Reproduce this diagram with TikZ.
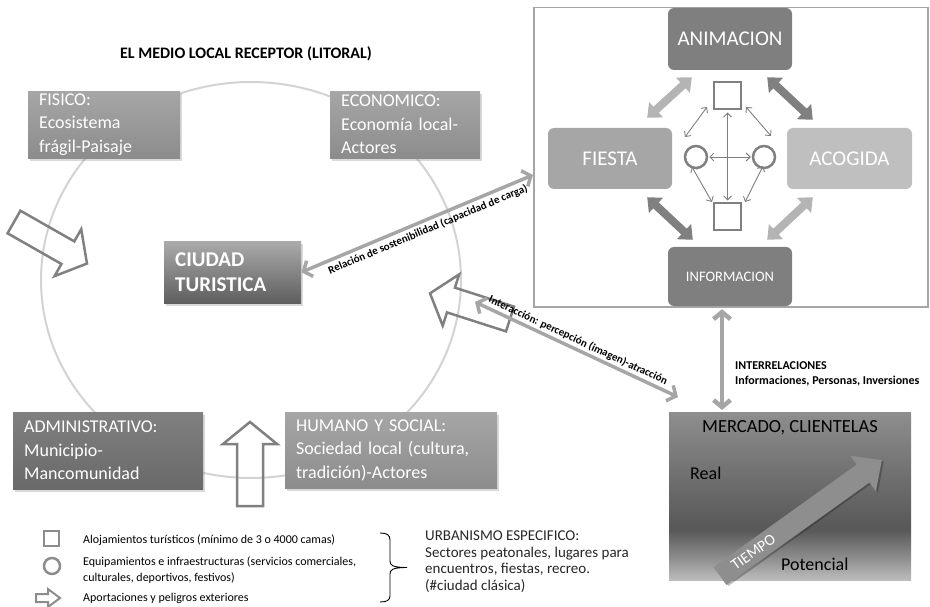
\documentclass[tikz,border=0pt]{standalone}
\usepackage{fontspec}
\setmainfont{Carlito}
\usetikzlibrary{arrows.meta,shadows,calc}
\definecolor{ring}{HTML}{D3D3D3}
\definecolor{hollow}{HTML}{808080}
\definecolor{legendgray}{HTML}{8C8C8C}
\definecolor{conn}{HTML}{A6A6A6}
\definecolor{dk}{HTML}{7F7F7F}
\definecolor{md}{HTML}{A6A6A6}
\definecolor{lt}{HTML}{BFBFBF}
\definecolor{fatlight}{HTML}{B4B4B4}
\definecolor{fatdark}{HTML}{808080}
\definecolor{boxA1}{HTML}{A6A6A6}
\definecolor{boxA2}{HTML}{8C8C8C}
\definecolor{boxB1}{HTML}{808080}
\definecolor{boxB2}{HTML}{696969}
\definecolor{boxC1}{HTML}{ABABAB}
\definecolor{boxC2}{HTML}{5E5E5E}
\definecolor{tiempo}{HTML}{8E8E8E}
\definecolor{mkA}{HTML}{BDBDBD}
\definecolor{mkB}{HTML}{929292}
\definecolor{mkC}{HTML}{585858}
\definecolor{mkD}{HTML}{6E6E6E}
\definecolor{mkE}{HTML}{8E8E8E}
\pgfdeclareverticalshading{mercshade}{100bp}{color(0bp)=(mkA); color(25bp)=(mkA); color(31bp)=(mkB); color(40bp)=(mkC); color(55bp)=(mkD); color(75bp)=(mkE); color(100bp)=(mkE)}
\tikzset{
  lbox/.style={rectangle, anchor=north west, inner xsep=11pt, inner ysep=0pt, align=left,
    text=white, font=\fontsize{18}{23.5}\selectfont,
    drop shadow={shadow xshift=2pt, shadow yshift=-2.5pt, opacity=0.3}},
  pbox/.style={rectangle, rounded corners=6pt, text=white, font=\fontsize{21}{25}\selectfont},
  sqnode/.style={rectangle, draw=hollow, line width=2pt, minimum size=27pt, inner sep=0pt},
  cinode/.style={circle, draw=hollow, line width=2.5pt, minimum size=22pt, inner sep=0pt},
  minarrow/.style={draw=hollow, line width=0.9pt, {Straight Barb[length=4pt,width=8pt]}-{Straight Barb[length=4pt,width=8pt]}},
  fatarrow/.style={line width=8pt, {Triangle[width=20pt,length=12pt]}-{Triangle[width=20pt,length=12pt]}},
  connline/.style={draw=conn, line width=3.5pt, {Straight Barb[length=7pt,width=17pt]}-{Straight Barb[length=7pt,width=17pt]}},
  hollowline/.style={draw=hollow, line width=2.5pt},
  lbl/.style={font=\bfseries\fontsize{11}{13}\selectfont, text=black, inner sep=1pt},
  legtext/.style={anchor=west, align=left, inner sep=0pt, font=\fontsize{12}{16}\selectfont},
  hollowarrow/.pic={\draw[hollowline] (0,-13) -- (62,-13) -- (62,-27) -- (84,0) -- (62,27) -- (62,13) -- (0,13) -- cycle;}
}
\begin{document}
\begin{tikzpicture}[x=1pt,y=-1pt]
\useasboundingbox (0,0) rectangle (930,607);

% ring of the local milieu
\draw[ring, line width=2pt] (251,280) ellipse [x radius=210pt, y radius=198pt];

% title
\node[font=\bfseries\fontsize{16}{19}\selectfont] (title) at (246,54) {EL MEDIO LOCAL RECEPTOR (LITORAL)};

% left boxes
\node[lbox, text width=130pt, minimum height=67pt, top color=boxA1, bottom color=boxA2] (fisico) at (28,91) {FISICO:\\Ecosistema\\frágil-Paisaje};
\node[lbox, text width=128pt, minimum height=67pt, top color=boxA1, bottom color=boxA2] (econ) at (330,91) {ECONOMICO:\\Economía local-\\Actores};
\node[lbox, text width=168pt, minimum height=77pt, top color=boxB1, bottom color=boxB2] (admin) at (13,412) {ADMINISTRATIVO:\\Municipio-\\Mancomunidad};
\node[lbox, text width=190pt, minimum height=76pt, top color=boxA1, bottom color=boxA2] (humano) at (285,412) {HUMANO Y SOCIAL:\\Sociedad local (cultura,\\tradición)-Actores};
\node[lbox, text width=115pt, minimum height=62pt, top color=boxC1, bottom color=boxC2, font=\bfseries\fontsize{21}{25}\selectfont] (ciudad) at (164,241) {CIUDAD\\TURISTICA};

% hollow arrows (aportaciones y peligros exteriores)
\pic[rotate=-29.66] at (14,222) {hollowarrow};
\pic[rotate=90] at (250,506) {hollowarrow};
\pic[rotate=162.2] at (510,319) {hollowarrow};

% right panel
\node[draw=md, line width=1.5pt, minimum width=394pt, minimum height=299pt, anchor=north west, inner sep=0pt] (panel) at (533,7) {};
\node[pbox, fill=dk, minimum width=124pt, minimum height=62pt] (anim) at (730,39) {ANIMACION};
\node[pbox, fill=md, minimum width=124pt, minimum height=61pt] (fiesta) at (610,158.5) {FIESTA};
\node[pbox, fill=lt, minimum width=125pt, minimum height=61pt] (acogida) at (849.5,158.5) {ACOGIDA};
\node[pbox, fill=dk, minimum width=124pt, minimum height=59pt, font=\fontsize{14.5}{17}\selectfont] (info) at (730,276.5) {INFORMACION};

\node[sqnode] (sqT) at (727.5,96) {};
\node[sqnode] (sqB) at (727.5,217) {};
\node[cinode] (ciL) at (696,157) {};
\node[cinode] (ciR) at (764,157) {};

\draw[minarrow, shorten <=2pt, shorten >=2pt] (sqT.south) -- (sqB.north);
\draw[minarrow, shorten <=1pt, shorten >=1pt] (ciL) -- (ciR);
\draw[minarrow] ($(sqT.center)+(-20.5,11)$) -- ($(ciL.center)+(-11,-20)$);
\draw[minarrow] ($(sqT.center)+(18.5,11)$) -- ($(ciR.center)+(7,-21)$);
\draw[minarrow] ($(ciL.center)+(-4,10)$) -- ($(sqB.center)+(-15.5,-15)$);
\draw[minarrow] ($(ciR.center)+(-1,9)$) -- ($(sqB.center)+(17.5,-15)$);

\draw[fatarrow, fatlight] ($(anim.south west)+(24,7)$) -- ($(fiesta.north east)+(-25,-10)$);
\draw[fatarrow, fatdark] ($(anim.south east)+(-25,7)$) -- ($(acogida.north west)+(26,-8)$);
\draw[fatarrow, fatdark] ($(fiesta.south east)+(-25,8)$) -- ($(info.north west)+(25,-7)$);
\draw[fatarrow, fatlight] ($(acogida.south west)+(26,8)$) -- ($(info.north east)+(-25,-7)$);

% market box
\node[shade, shading=mercshade, minimum width=242pt, minimum height=168pt, inner sep=0pt, anchor=north west] (mercado) at (669,412) {};
\node[font=\fontsize{18.5}{22}\selectfont] (mtitle) at (790,428) {MERCADO, CLIENTELAS};
\node[anchor=west, inner sep=0pt, font=\fontsize{18}{22}\selectfont] (real) at (690,473) {Real};
\begin{scope}[shift={(720,576)}, rotate=35.6]
  \fill[black, opacity=0.25] (1,-9) -- (177,-9) -- (177,-20) -- (200,2) -- (177,24) -- (177,13) -- (1,13) -- cycle;
  \fill[tiempo] (0,-11) -- (176,-11) -- (176,-22) -- (199,0) -- (176,22) -- (176,11) -- (0,11) -- cycle;
  \node[text=white, rotate=35.6, inner sep=0pt, font=\fontsize{15.5}{18}\selectfont] (tiempolab) at (41,0) {TIEMPO};
\end{scope}
\node[anchor=west, inner sep=0pt, font=\fontsize{18}{22}\selectfont] (pot) at (781,564) {Potencial};

% connectors
\coordinate (relEnd) at (533,175);
\draw[connline] (ciudad.east) -- node[lbl, sloped, below=2pt, pos=0.53] (rellab) {Relación de sostenibilidad (capacidad de carga)} (relEnd);
\coordinate (intA) at (475,302);
\coordinate (intB) at (678,397);
\draw[connline] (intA) -- node[lbl, sloped, above=1pt, pos=0.49] (intlab) {Interacción: percepción (imagen)-atracción} (intB);
\draw[connline, line width=4.5pt, shorten <=3pt, shorten >=2pt] ([xshift=-8pt]info.south) -- ([xshift=-8pt]info.south |- mercado.north);
\node[anchor=west, align=left, inner sep=0pt, font=\bfseries\fontsize{12}{14.5}\selectfont] (interrel) at (735,374) {INTERRELACIONES\\Informaciones, Personas, Inversiones};

% legend
\node[rectangle, draw=legendgray, line width=2.5pt, minimum size=15pt, inner sep=0pt] (lsq) at (51.5,538.5) {};
\node[circle, draw=legendgray, line width=2.5pt, minimum size=16pt, inner sep=0pt] (lci) at (52,566) {};
\draw[legendgray, line width=2pt] (36,594) -- (48,594) -- (48,589) -- (60,598) -- (48,607) -- (48,602) -- (36,602) -- cycle;
\node[legtext] (l1) at (83,540) {Alojamientos turísticos (mínimo de 3 o 4000 camas)};
\node[legtext] (l2) at (83,570) {Equipamientos e infraestructuras (servicios comerciales,\\culturales, deportivos, festivos)};
\node[legtext] (l3) at (83,598) {Aportaciones y peligros exteriores};
\draw[line width=0.9pt] (380,533) .. controls (387,533) and (390,535) .. (390,540) -- (390,561) .. controls (390,565) and (392,567.5) .. (407,567.5) .. controls (392,567.5) and (390,570) .. (390,574) -- (390,596) .. controls (390,600) and (387,602) .. (380,602);
\node[anchor=north west, align=left, inner sep=0pt, text=black!85, font=\fontsize{15}{16.5}\selectfont] (urb) at (425,531) {URBANISMO ESPECIFICO:\\Sectores peatonales, lugares para\\encuentros, fiestas, recreo.\\(\#ciudad clásica)};
\end{tikzpicture}
\end{document}
